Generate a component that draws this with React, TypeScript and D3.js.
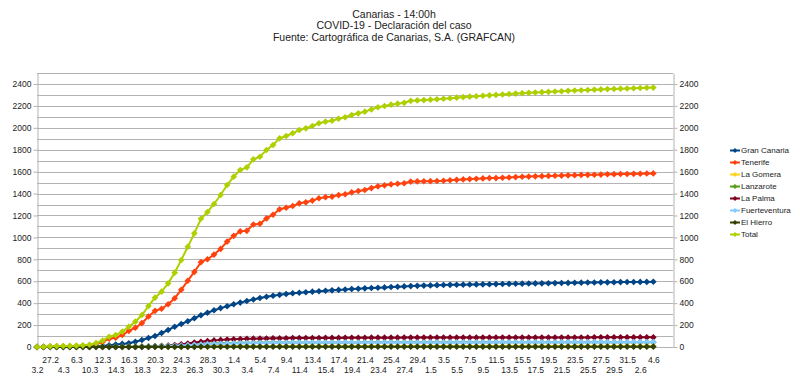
import React, { useEffect, useRef } from "react";
import * as d3 from "d3";

const W = 800;
const H = 387;

const dates = [
  "3.2", "24.2", "27.2", "1.3", "4.3", "5.3", "6.3", "9.3",
  "10.3", "11.3", "12.3", "13.3", "14.3", "15.3", "16.3", "17.3", "18.3", "19.3", "20.3",
  "21.3", "22.3", "23.3", "24.3", "25.3", "26.3", "27.3", "28.3", "29.3", "30.3", "31.3",
  "1.4", "2.4", "3.4", "4.4", "5.4", "6.4", "7.4", "8.4", "9.4", "10.4",
  "11.4", "12.4", "13.4", "14.4", "15.4", "16.4", "17.4", "18.4", "19.4", "20.4",
  "21.4", "22.4", "23.4", "24.4", "25.4", "26.4", "27.4", "28.4", "29.4", "30.4",
  "1.5", "2.5", "3.5", "4.5", "5.5", "6.5", "7.5", "8.5", "9.5", "10.5",
  "11.5", "12.5", "13.5", "14.5", "15.5", "16.5", "17.5", "18.5", "19.5", "20.5",
  "21.5", "22.5", "23.5", "24.5", "25.5", "26.5", "27.5", "28.5", "29.5", "30.5", "31.5",
  "1.6", "2.6", "3.6", "4.6",
];

const granCanaria = [
  0, 0, 1, 1, 2, 2, 2, 3, 4, 6,
  10, 16, 22, 28, 34, 48, 64, 82, 100, 128,
  155, 185, 210, 235, 262, 290, 313, 335, 355, 372,
  390, 405, 420, 433, 447, 458, 468, 476, 484, 490,
  495, 500, 505, 509, 513, 517, 521, 525, 529, 532,
  535, 538, 541, 544, 547, 550, 553, 556, 558, 560,
  562, 564, 566, 567, 568, 569, 570, 571, 572, 573,
  574, 575, 576, 577, 578, 579, 580, 581, 582, 583,
  584, 585, 586, 587, 588, 589, 590, 590, 591, 592,
  593, 593, 594, 594, 595,
];

const tenerife = [
  0, 1, 4, 6, 6, 7, 9, 11, 15, 28,
  46, 76, 84, 109, 146, 176, 218, 278, 330, 349,
  390, 445, 522, 605, 685, 774, 801, 843, 895, 962,
  1014, 1055, 1060, 1118, 1125, 1173, 1207, 1257, 1270, 1286,
  1311, 1320, 1336, 1357, 1367, 1372, 1386, 1394, 1411, 1423,
  1433, 1450, 1466, 1475, 1484, 1490, 1494, 1509, 1511, 1512,
  1513, 1515, 1517, 1521, 1525, 1529, 1532, 1535, 1538, 1541,
  1541, 1544, 1547, 1550, 1553, 1555, 1557, 1559, 1561, 1563,
  1564, 1566, 1568, 1570, 1571, 1572, 1573, 1576, 1577, 1578,
  1578, 1580, 1581, 1583, 1584,
];

const laGomera = [
  1, 1, 1, 1, 1, 1, 1, 1, 1, 1,
  1, 1, 1, 1, 1, 2, 2, 2, 2, 3,
  3, 3, 4, 4, 4, 5, 5, 5, 6, 6,
  6, 7, 7, 7, 7, 7, 7, 8, 8, 8,
  8, 8, 8, 8, 8, 8, 8, 8, 8, 8,
  8, 8, 8, 8, 8, 8, 8, 8, 8, 8,
  8, 8, 8, 8, 8, 8, 8, 8, 8, 8,
  8, 8, 8, 8, 8, 8, 8, 8, 8, 8,
  8, 8, 8, 8, 8, 8, 8, 8, 8, 8,
  8, 8, 8, 8, 8,
];

const lanzarote = [
  0, 0, 0, 0, 0, 0, 0, 0, 0, 0,
  1, 1, 2, 2, 3, 4, 5, 6, 8, 10,
  12, 15, 18, 21, 25, 28, 30, 32, 34, 36,
  37, 38, 39, 39, 40, 40, 41, 41, 41, 42,
  42, 42, 42, 42, 42, 42, 42, 42, 42, 42,
  43, 43, 43, 43, 43, 43, 43, 43, 43, 43,
  43, 43, 43, 43, 43, 43, 43, 43, 43, 43,
  44, 44, 44, 44, 44, 44, 44, 44, 44, 44,
  44, 44, 44, 44, 44, 44, 44, 44, 44, 44,
  44, 44, 44, 44, 44,
];

const laPalma = [
  0, 0, 0, 0, 0, 0, 0, 0, 0, 0,
  0, 0, 0, 0, 0, 0, 1, 3, 5, 8,
  12, 18, 25, 32, 40, 48, 55, 60, 65, 68,
  71, 73, 75, 76, 77, 78, 79, 80, 80, 81,
  81, 82, 82, 82, 83, 83, 83, 84, 84, 84,
  84, 85, 85, 85, 85, 85, 86, 86, 86, 86,
  86, 86, 86, 86, 86, 86, 86, 86, 86, 86,
  87, 87, 87, 87, 87, 87, 87, 87, 87, 87,
  87, 87, 87, 87, 87, 88, 88, 88, 88, 88,
  88, 88, 88, 88, 88,
];

const fuerteventura = [
  0, 0, 0, 0, 0, 0, 0, 0, 0, 0,
  0, 0, 0, 0, 1, 1, 2, 3, 4, 6,
  8, 11, 14, 17, 20, 23, 26, 28, 30, 32,
  33, 34, 35, 36, 37, 38, 38, 39, 39, 40,
  40, 40, 40, 40, 40, 40, 40, 40, 40, 40,
  41, 41, 41, 41, 41, 41, 41, 41, 41, 41,
  42, 42, 42, 42, 42, 42, 42, 42, 42, 42,
  43, 43, 43, 43, 43, 43, 43, 43, 43, 43,
  44, 44, 44, 44, 44, 44, 44, 44, 44, 44,
  45, 45, 45, 45, 45,
];

const elHierro = [
  0, 0, 0, 0, 0, 0, 0, 0, 0, 0,
  0, 0, 0, 0, 0, 0, 0, 0, 1, 1,
  1, 1, 1, 1, 1, 2, 2, 2, 2, 2,
  3, 3, 3, 3, 3, 3, 3, 3, 3, 3,
  3, 3, 3, 3, 3, 3, 3, 3, 3, 3,
  3, 3, 3, 3, 3, 3, 3, 3, 3, 3,
  3, 3, 3, 3, 3, 3, 3, 3, 3, 3,
  3, 3, 3, 3, 3, 3, 3, 3, 3, 3,
  3, 3, 3, 3, 3, 3, 3, 3, 3, 3,
  3, 3, 3, 3, 3,
];

const total = [
  1, 2, 6, 8, 9, 10, 12, 15, 20, 35,
  58, 94, 109, 140, 185, 231, 292, 374, 450, 505,
  581, 678, 794, 915, 1037, 1170, 1232, 1305, 1387, 1478,
  1554, 1615, 1639, 1712, 1736, 1797, 1843, 1904, 1925, 1950,
  1980, 1995, 2016, 2041, 2056, 2065, 2083, 2096, 2117, 2132,
  2147, 2168, 2187, 2199, 2211, 2220, 2228, 2246, 2250, 2253,
  2257, 2261, 2265, 2270, 2275, 2280, 2284, 2288, 2292, 2296,
  2300, 2304, 2308, 2312, 2316, 2319, 2322, 2325, 2328, 2331,
  2334, 2337, 2340, 2343, 2345, 2348, 2350, 2353, 2355, 2357,
  2359, 2361, 2363, 2365, 2367,
];

const seriesNames = ["Gran Canaria", "Tenerife", "La Gomera", "Lanzarote", "La Palma", "Fuerteventura", "El Hierro", "Total"];
const seriesColors = ["#004586", "#ff420e", "#ffd320", "#579d1c", "#7e0021", "#83caff", "#314004", "#aecf00"];
const seriesValues = [granCanaria, tenerife, laGomera, lanzarote, laPalma, fuerteventura, elHierro, total];

const yTicks = [0, 200, 400, 600, 800, 1000, 1200, 1400, 1600, 1800, 2000, 2200, 2400];
const titleLines = ["Canarias - 14:00h", "COVID-19 - Declaración del caso", "Fuente: Cartográfica de Canarias, S.A. (GRAFCAN)"];

// plot box
const left = 37;
const right = 673;
const top = 73;
const bottom = 347;
const slotSpan = 97; // plot width measured in category steps
const yMax = 2500;

function CovidChart() {
  const svgRef = useRef(null);

  useEffect(() => {
    const svg = d3.select(svgRef.current);
    svg.selectAll("*").remove();

    const x = d3.scaleLinear().domain([0, slotSpan]).range([left, right]);
    const y = d3.scaleLinear().domain([0, yMax]).range([bottom, top]);
    const font = "'Liberation Sans', Arial, sans-serif";

    svg.append("rect").attr("width", W).attr("height", H).attr("fill", "#fff");

    // Titles
    svg
      .append("g")
      .selectAll("text")
      .data(titleLines)
      .join("text")
      .attr("x", 394)
      .attr("y", (_, i) => 17.5 + i * 11.5)
      .attr("text-anchor", "middle")
      .attr("font-family", font)
      .attr("font-size", 10.5)
      .attr("fill", "#222")
      .text((d) => d);

    // Grid lines every 100
    svg
      .append("g")
      .selectAll("line")
      .data(y.ticks(25))
      .join("line")
      .attr("x1", left)
      .attr("x2", right)
      .attr("y1", (d) => Math.round(y(d)) + 0.5)
      .attr("y2", (d) => Math.round(y(d)) + 0.5)
      .attr("stroke", "#b3b3b3")
      .attr("stroke-width", 1);

    // Axes
    const fmt = d3.format("d");
    const yAxisL = d3.axisLeft(y).tickValues(yTicks).tickFormat(fmt).tickSizeInner(4).tickSizeOuter(0).tickPadding(2);
    const yAxisR = d3.axisRight(y).tickValues(yTicks).tickFormat(fmt).tickSizeInner(4).tickSizeOuter(0).tickPadding(2);
    const xAxis = d3
      .axisBottom(x)
      .tickValues(dates.map((_, i) => i).filter((i) => i % 2 === 0))
      .tickFormat((i) => dates[i as number])
      .tickSizeInner(0)
      .tickSizeOuter(0);

    const gl = svg.append("g").attr("transform", `translate(${left + 0.5},0)`).call(yAxisL);
    const gr = svg.append("g").attr("transform", `translate(${right + 0.5},0)`).call(yAxisR);
    const gx = svg.append("g").attr("transform", `translate(0,${bottom + 0.5})`).call(xAxis);
    gx.select(".domain").attr("d", `M${left},0H${right}`);

    [gl, gr, gx].forEach((g) => {
      g.selectAll(".domain, .tick line").attr("stroke", "#b3b3b3");
      g.selectAll("text").attr("font-family", font).attr("font-size", 8.5).attr("fill", "#222");
    });
    gx.selectAll(".tick text")
      .attr("dy", null)
      .attr("y", (d) => (((d as number) / 2) % 2 === 0 ? 25.5 : 15));

    // Lines and markers
    const line = d3
      .line<number>()
      .x((_, i) => x(i))
      .y((d) => y(d));
    const marker = d3.symbol().type(d3.symbolSquare).size(22)();

    seriesValues.forEach((vals, k) => {
      const g = svg.append("g");
      g.append("path")
        .attr("d", line(vals))
        .attr("fill", "none")
        .attr("stroke", seriesColors[k])
        .attr("stroke-width", 2);
      g.selectAll("path.m")
        .data(vals)
        .join("path")
        .attr("class", "m")
        .attr("d", marker)
        .attr("transform", (d, i) => `translate(${x(i)},${y(d)}) rotate(45)`)
        .attr("fill", seriesColors[k]);
    });

    // Legend
    const lg = svg
      .append("g")
      .selectAll("g")
      .data(seriesNames)
      .join("g")
      .attr("transform", (_, i) => `translate(730,${150.5 + i * 12})`);
    lg.append("line")
      .attr("x1", 0)
      .attr("x2", 10)
      .attr("stroke", (_, i) => seriesColors[i])
      .attr("stroke-width", 2);
    lg.append("path")
      .attr("d", d3.symbol().type(d3.symbolSquare).size(12)())
      .attr("transform", "translate(5,0) rotate(45)")
      .attr("fill", (_, i) => seriesColors[i]);
    lg.append("text")
      .attr("x", 11)
      .attr("dy", "0.35em")
      .attr("font-family", font)
      .attr("font-size", 8)
      .attr("fill", "#222")
      .text((d) => d);
  }, []);

  return <svg ref={svgRef} width={W} height={H} style={{ position: "absolute", left: 0, top: 0 }} />;
}

export default function App() {
  return <CovidChart />;
}
